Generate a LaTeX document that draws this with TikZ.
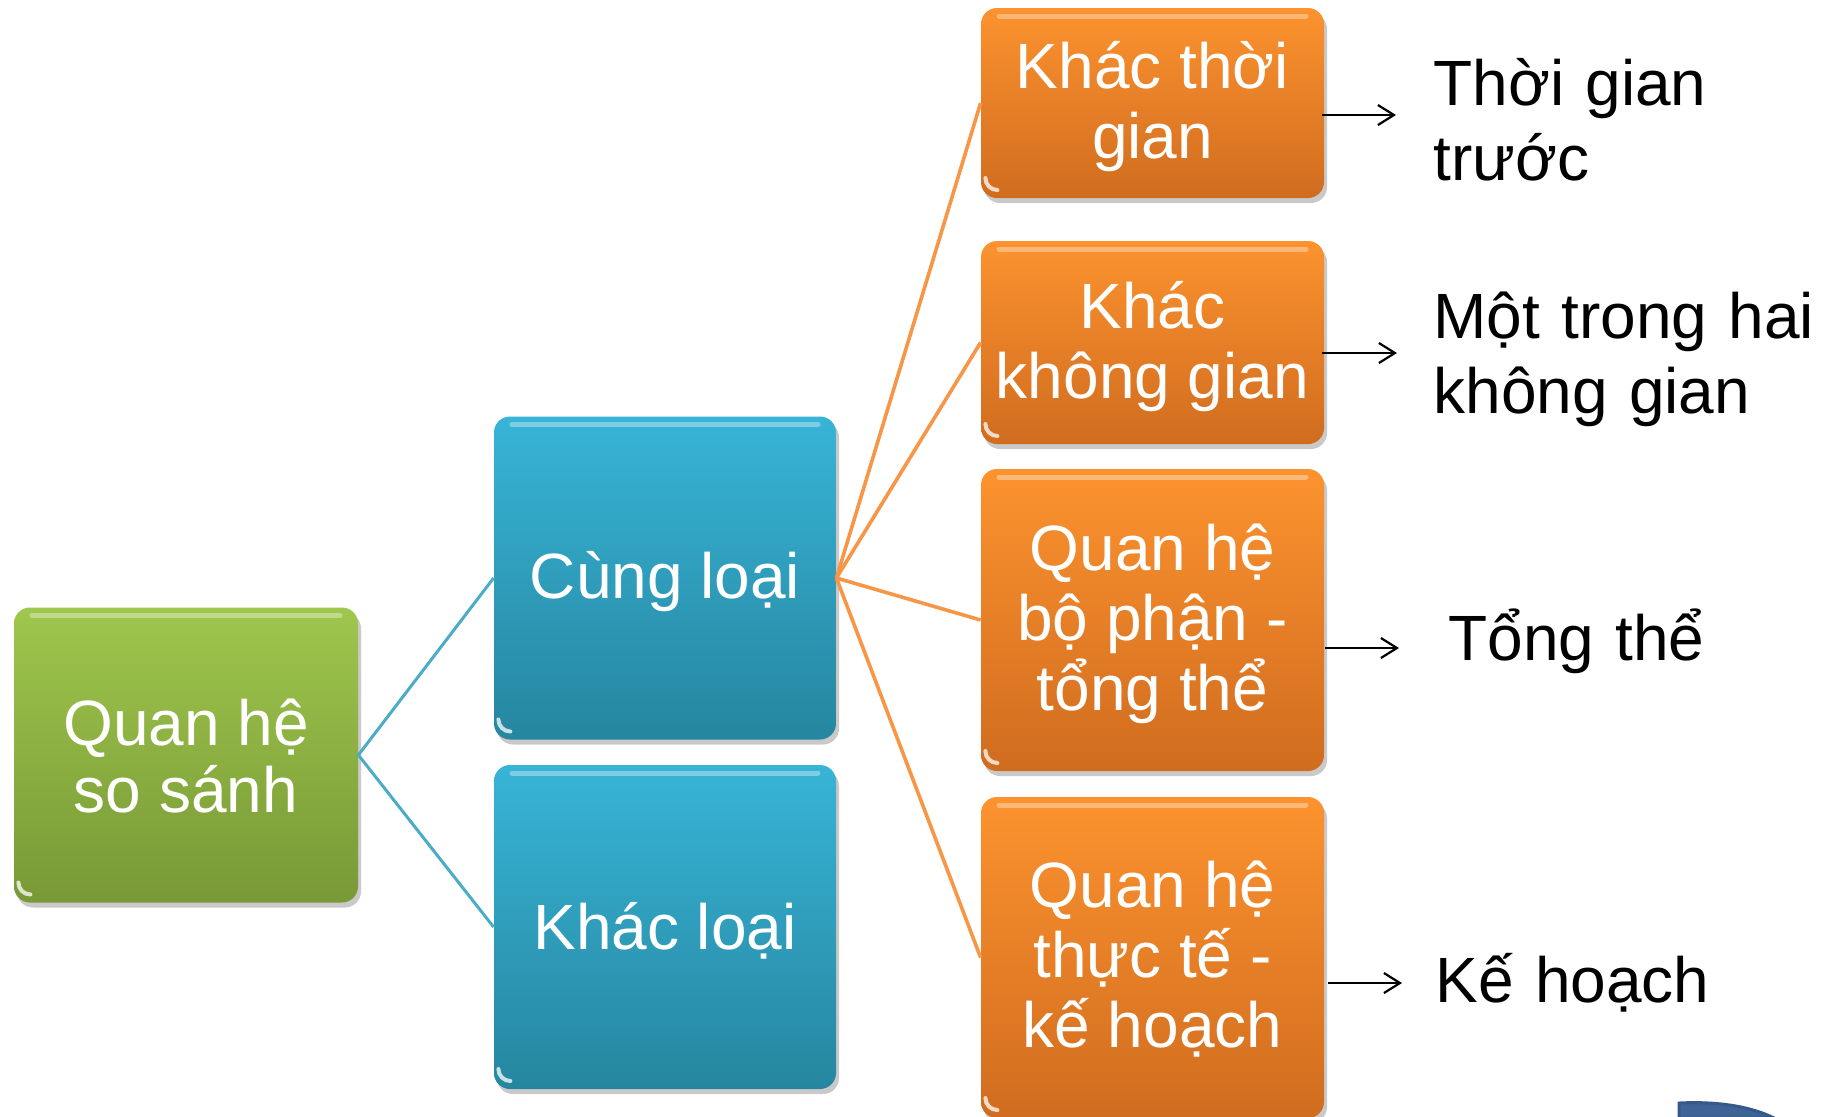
\documentclass[tikz,border=0pt]{standalone}
\usepackage{fontspec}
\setmainfont{Liberation Sans}
\usetikzlibrary{shadows,arrows.meta}
\definecolor{gtop}{HTML}{9FC64D}
\definecolor{gbot}{HTML}{789936}
\definecolor{btop}{HTML}{38B4D7}
\definecolor{bbot}{HTML}{26869F}
\definecolor{otop}{HTML}{FC932F}
\definecolor{obot}{HTML}{D06C1F}
\definecolor{bline}{HTML}{4BACC6}
\definecolor{oline}{HTML}{F79646}
\definecolor{deco}{HTML}{3E6496}
\definecolor{decodark}{HTML}{35598A}
\begin{document}
\begin{tikzpicture}[x=0.5pt,y=-0.5pt,
  box/.style={rounded corners=8pt, inner sep=0pt,
    drop shadow={shadow xshift=1.5pt, shadow yshift=-2.5pt, opacity=0.3, fill=black!70},
    path picture={
      \draw[white, opacity=0.35, line width=2.5pt, line cap=round]
        ([xshift=9pt,yshift=-4pt]path picture bounding box.north west) --
        ([xshift=-9pt,yshift=-4pt]path picture bounding box.north east);
      \draw[white, opacity=0.75, line width=2pt, line cap=round]
        ([xshift=2.2pt,yshift=10pt]path picture bounding box.south west) arc (180:270:6pt);
    }},
  gbox/.style={box, top color=gtop, bottom color=gbot},
  bbox/.style={box, top color=btop, bottom color=bbot},
  obox/.style={box, top color=otop, bottom color=obot, minimum width=171.5pt},
  btext/.style={inner sep=0pt, align=center, text=white, font=\fontsize{32}{35}\selectfont},
  gtext/.style={btext, font=\fontsize{32}{33.5}\selectfont},
  bconn/.style={draw=bline, line width=1.5pt},
  oconn/.style={draw=oline, line width=1.8pt},
  arr/.style={draw=black, line width=1.1pt, -{Straight Barb[length=8pt,width=10pt,line width=1.1pt]}},
  rtext/.style={anchor=base west, inner sep=0pt, text width=200pt, align=left,
    font=\fontsize{32}{37.5}\selectfont}
]
\useasboundingbox (0,0) rectangle (1826,1116);

% boxes
\node[gbox, minimum width=172pt, minimum height=147.5pt] (qh) at (186,755) {};
\node[bbox, minimum width=171pt, minimum height=161.5pt] (cung) at (665,578) {};
\node[bbox, minimum width=171pt, minimum height=162pt] (khac) at (665,927) {};
\node[obox, minimum height=95pt] (o1) at (1152.5,103) {};
\node[obox, minimum height=101.5pt] (o2) at (1152.5,342.5) {};
\node[obox, minimum height=151pt] (o3) at (1152.5,620) {};
\node[obox, minimum height=160.5pt] (o4) at (1152.5,957.5) {};

% box texts
\node[gtext] (qht) at ([yshift=-0.3pt]qh.center) {Quan hệ\\so sánh};
\node[btext] (cungt) at ([yshift=-2pt]cung.center) {Cùng loại};
\node[btext] (khact) at ([yshift=-1.8pt]khac.center) {Khác loại};
\node[btext] (o1t) at ([yshift=-1.8pt]o1.center) {Khác thời\\gian};
\node[btext] (o2t) at ([yshift=-1.8pt]o2.center) {Khác\\không gian};
\node[btext] (o3t) at ([yshift=-2pt]o3.center) {Quan hệ\\bộ phận -\\tổng thể};
\node[btext] (o4t) at ([yshift=-1pt]o4.center) {Quan hệ\\thực tế -\\kế hoạch};

% connectors
\draw[bconn] (cung.west) -- (qh.east) -- (khac.west);
\draw[oconn] (cung.east) -- (o1.west);
\draw[oconn] (cung.east) -- (o2.west);
\draw[oconn] (cung.east) -- (o3.west);
\draw[oconn] (cung.east) -- (o4.west);

% arrows
\coordinate (e1) at (1396,115);
\coordinate (e2) at (1397,353);
\coordinate (e3) at (1399,648);
\coordinate (e4) at (1402,983);
\draw[arr] ([xshift=-1pt]o1.east |- e1) -- (e1);
\draw[arr] ([xshift=-1pt]o2.east |- e2) -- (e2);
\draw[arr] ([xshift=0.5pt]o3.east |- e3) -- (e3);
\draw[arr] ([xshift=2pt]o4.east |- e4) -- (e4);

% right texts
\node[rtext] (r1) at (1433,105) {Thời gian\\trước};
\node[rtext] (r2) at (1433,338) {Một trong hai\\không gian};
\node[rtext] (r3) at (1448,660) {Tổng thể};
\node[rtext] (r4) at (1435,1002) {Kế hoạch};

% corner decoration
\fill[deco, draw=decodark, line width=1.5pt] (1679,1118) -- (1679,1103)
  .. controls (1720,1101) and (1752,1107) .. (1774,1118) -- cycle;
\end{tikzpicture}
\end{document}
